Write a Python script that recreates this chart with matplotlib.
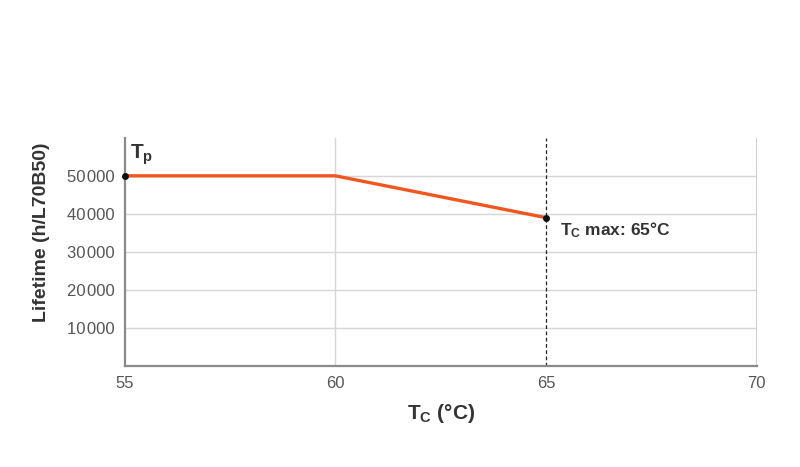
import matplotlib.pyplot as plt

plt.rcParams['font.family'] = ['Liberation Sans', 'DejaVu Sans']
plt.rcParams['mathtext.fontset'] = 'custom'
plt.rcParams['mathtext.rm'] = 'Liberation Sans'
plt.rcParams['mathtext.bf'] = 'Liberation Sans:bold'

# lifetime curve
temps = [55, 60, 65]
lifetime = [50000, 50000, 39000]
y_ticks = [10000, 20000, 30000, 40000, 50000]
x_ticks = [55, 60, 65, 70]

fig = plt.figure(figsize=(8, 4.67), dpi=100)
ax = fig.add_axes([0.156, 0.216, 0.79, 0.489])

ax.set_xlim(55, 70)
ax.set_ylim(0, 60000)

for y in y_ticks:
    ax.axhline(y, color='#d6d6d6', lw=1, zorder=0)
ax.axvline(60, color='#d6d6d6', lw=1, zorder=0)
ax.axvline(70, color='#c4c4c4', lw=1.2, zorder=0)
ax.axvline(65, color='#222222', lw=0.9, ls=(0, (3, 2)), zorder=1)

ax.plot(temps, lifetime, color='#F0561D', lw=2.4, solid_joinstyle='round', zorder=3)
ax.plot([temps[0], temps[-1]], [lifetime[0], lifetime[-1]], 'o', color='#111111',
        ms=4, zorder=4, clip_on=False)

ax.set_xticks(x_ticks)
ax.set_yticks(y_ticks)
ax.set_yticklabels([f'{v:,}'.replace(',', '\u200a') for v in y_ticks])
ax.tick_params(length=0, labelsize=12, labelcolor='#555555', pad=7)
ax.tick_params(axis='x', pad=7)

for s in ['top', 'right']:
    ax.spines[s].set_visible(False)
for s in ['left', 'bottom']:
    ax.spines[s].set_color('#8a8a8a')
    ax.spines[s].set_linewidth(1.6)

ax.set_ylabel('Lifetime (h/L70B50)', fontsize=14, fontweight='bold',
              color='#333333')
ax.yaxis.set_label_coords(-0.118, 0.588)
ax.set_xlabel(r'$\mathbf{T_C}$ (°C)', fontsize=15, fontweight='bold',
              color='#333333')
ax.xaxis.set_label_coords(0.5, -0.206)
ax.xaxis.label.set_va('center')

ax.text(55.12, 52200, r'$\mathbf{T_p}$', fontsize=15, color='#333333',
        ha='left', va='bottom')
ax.text(65.33, 35600, r'$\mathbf{T_C}$ max: 65°C', fontsize=12.5,
        fontweight='bold', color='#333333', ha='left', va='center')

fig.savefig('out.png', dpi=100)
